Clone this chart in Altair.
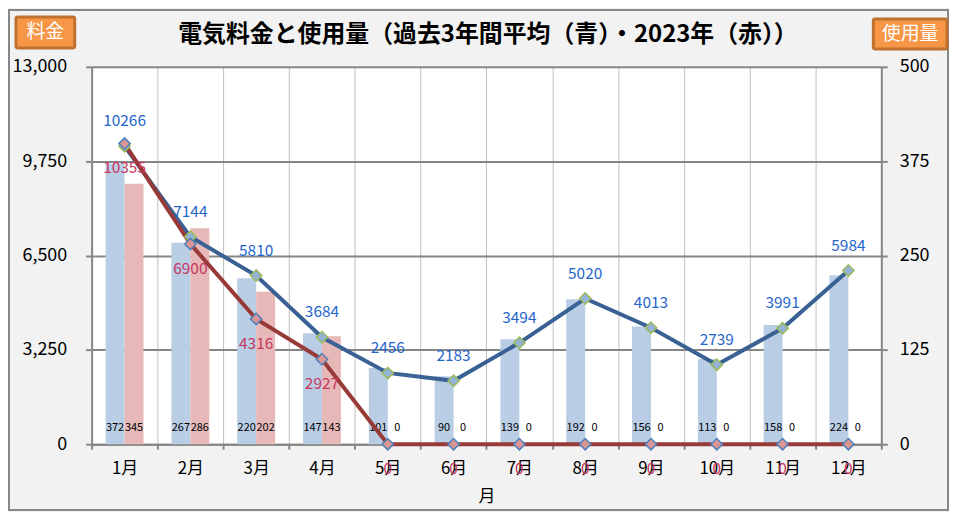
import altair as alt
import pandas as pd

months = ["1月", "2月", "3月", "4月", "5月", "6月", "7月", "8月", "9月", "10月", "11月", "12月"]
avg_usage = [372, 267, 220, 147, 101, 90, 139, 192, 156, 113, 158, 224]
cur_usage = [345, 286, 202, 143, 0, 0, 0, 0, 0, 0, 0, 0]
avg_charge = [10266, 7144, 5810, 3684, 2456, 2183, 3494, 5020, 4013, 2739, 3991, 5984]
cur_charge = [10355, 6900, 4316, 2927, 0, 0, 0, 0, 0, 0, 0, 0]
left_ticks = [0, 3250, 6500, 9750, 13000]
right_ticks = [0, 125, 250, 375, 500]
title_text = "電気料金と使用量（過去3年間平均（青）・2023年（赤））"

FONT = "Noto Sans CJK JP"
W, H = 793, 379

bars_df = pd.DataFrame({
    "month": months * 2,
    "series": ["avg"] * 12 + ["cur"] * 12,
    "usage": avg_usage + cur_usage,
})
avg_df = pd.DataFrame({"month": months, "charge": avg_charge})
cur_df = pd.DataFrame({"month": months, "charge": cur_charge})

x_enc = alt.X(
    "month:N", sort=months,
    scale=alt.Scale(paddingInner=0, paddingOuter=0),
    axis=alt.Axis(
        title="月", labelAngle=0, tickBand="extent", grid=True,
        gridColor="#bfbfbf", gridWidth=1,
        domainColor="#868686", domainWidth=2,
        tickColor="#868686", tickWidth=2, tickSize=5,
        labelFontSize=17, labelColor="#000000", labelPadding=11, labelFont=FONT,
        titleFontSize=17, titleFontWeight="normal", titleColor="#000000",
        titleFont=FONT, titlePadding=13,
    ),
)
xoff = alt.XOffset("series:N", sort=["avg", "cur"],
                   scale=alt.Scale(paddingInner=0, paddingOuter=0.737))

y_right = alt.Y(
    "usage:Q", scale=alt.Scale(domain=[0, 500]),
    axis=alt.Axis(orient="right", values=right_ticks, format="d", grid=False, title=None,
                  domainColor="#868686", domainWidth=2, tickColor="#868686",
                  tickWidth=2, tickSize=6, labelFontSize=18, labelColor="#000000",
                  labelPadding=12, labelFont=FONT),
)

bars = alt.Chart(bars_df).mark_bar().encode(
    x=x_enc, xOffset=xoff, y=y_right,
    color=alt.Color("series:N", scale=alt.Scale(domain=["avg", "cur"],
                                                range=["#b9cde5", "#e6b9b8"]), legend=None),
)
bar_labels = alt.Chart(bars_df).mark_text(dy=-16, fontSize=11, color="#000000", font=FONT).encode(
    x=alt.X("month:N", sort=months), xOffset=xoff,
    y=alt.datum(0),
    text=alt.Text("usage:Q", format="d"),
)
right_layer = alt.layer(bars, bar_labels)

y_left = alt.Y(
    "charge:Q", scale=alt.Scale(domain=[0, 13000]),
    axis=alt.Axis(orient="left", values=left_ticks, format=",d", grid=True,
                  gridColor="#868686", gridWidth=2, title=None,
                  domainColor="#868686", domainWidth=2, tickColor="#868686",
                  tickWidth=2, tickSize=6, labelFontSize=18, labelColor="#000000",
                  labelPadding=19, labelFont=FONT),
)
xl = alt.X("month:N", sort=months)

avg_line = alt.Chart(avg_df).mark_line(strokeWidth=4, color="#3a6194").encode(x=xl, y=y_left)
cur_line = alt.Chart(cur_df).mark_line(strokeWidth=4, color="#983a37").encode(x=xl, y="charge:Q")
avg_pts = alt.Chart(avg_df).mark_point(shape="diamond", filled=True, size=130, fill="#95b3d7",
                                       stroke="#9bbb59", strokeWidth=1.5, opacity=1).encode(x=xl, y="charge:Q")
cur_pts = alt.Chart(cur_df).mark_point(shape="diamond", filled=True, size=130, fill="#d99694",
                                       stroke="#4f81bd", strokeWidth=1.5, opacity=1).encode(x=xl, y="charge:Q")
avg_txt = alt.Chart(avg_df).mark_text(dy=-25, fontSize=15.5, color="#1f66cc", font=FONT).encode(
    x=xl, y="charge:Q", text=alt.Text("charge:Q", format="d"))
cur_txt = alt.Chart(cur_df).mark_text(dy=25, fontSize=15.5, color="#c8365f", font=FONT).encode(
    x=xl, y="charge:Q", text=alt.Text("charge:Q", format="d"))
left_layer = alt.layer(avg_line, cur_line, avg_pts, cur_pts, avg_txt, cur_txt)

deco = pd.DataFrame({"k": [1]})
frame = alt.Chart(deco).mark_rect(fill="transparent", stroke="#868686", strokeWidth=2).encode(
    x=alt.value(-83), x2=alt.value(860), y=alt.value(-57), y2=alt.value(445))
title_mark = alt.Chart(deco).mark_text(text=title_text, fontSize=24, fontWeight="bold",
                                       font=FONT, color="#000000").encode(
    x=alt.value(398), y=alt.value(-32))
badge_l = alt.Chart(deco).mark_rect(fill="#f79646", stroke="#c0702f", strokeWidth=3, cornerRadius=2).encode(
    x=alt.value(-76), x2=alt.value(-17), y=alt.value(-50), y2=alt.value(-19))
badge_l_txt = alt.Chart(deco).mark_text(text="料金", color="white", fontSize=19, font=FONT).encode(
    x=alt.value(-46.5), y=alt.value(-34.5))
badge_r = alt.Chart(deco).mark_rect(fill="#f79646", stroke="#c0702f", strokeWidth=3, cornerRadius=2).encode(
    x=alt.value(785), x2=alt.value(859), y=alt.value(-48), y2=alt.value(-18))
badge_r_txt = alt.Chart(deco).mark_text(text="使用量", color="white", fontSize=19, font=FONT).encode(
    x=alt.value(822), y=alt.value(-33))

chart = alt.layer(
    right_layer, left_layer, frame, title_mark, badge_l, badge_l_txt, badge_r, badge_r_txt
).resolve_scale(y="independent").properties(
    width=W, height=H,
    autosize=alt.AutoSizeParams(type="none"),
    padding={"left": 84, "top": 58, "right": 68, "bottom": 67},
    background="#f2f2f2",
).configure_view(fill="white", strokeWidth=0)

chart.save("out.html", embed_options={"renderer": "svg", "actions": False})
